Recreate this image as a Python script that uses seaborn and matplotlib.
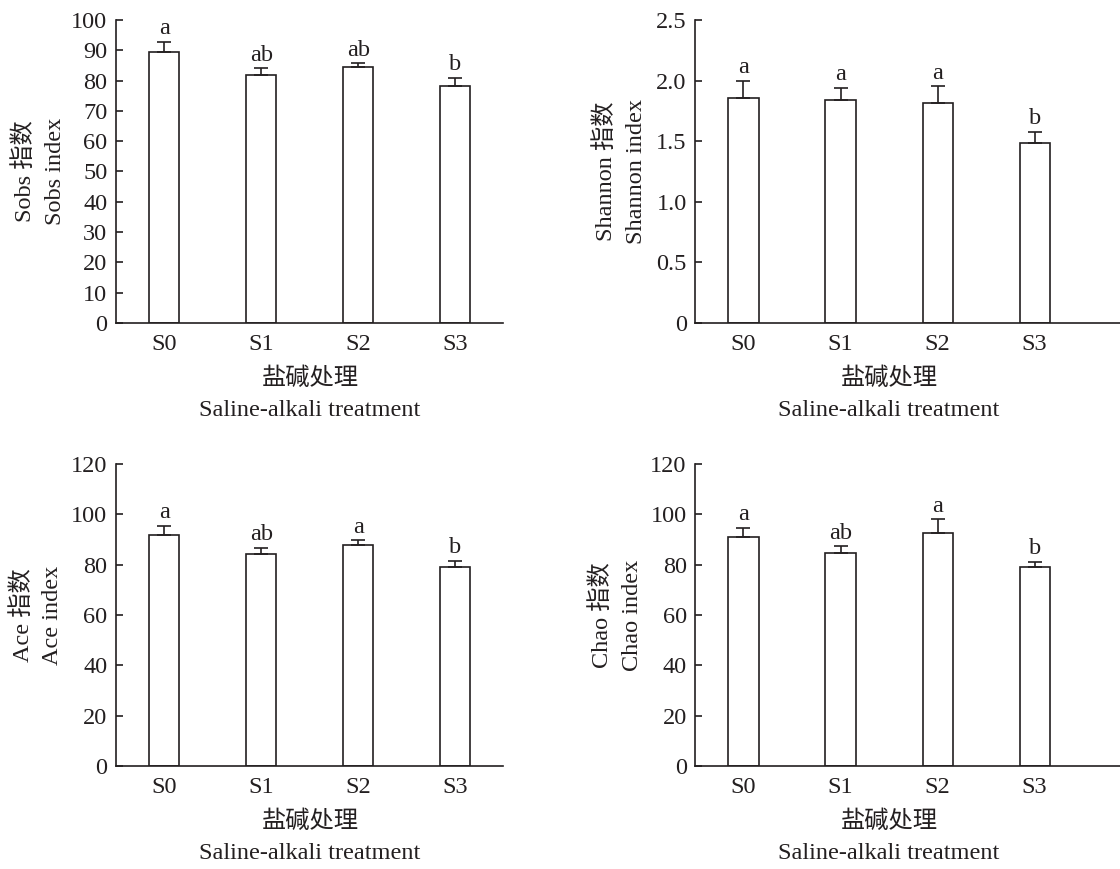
import matplotlib
matplotlib.use("Agg")
import matplotlib.pyplot as plt
import seaborn as sns
import numpy as np

# ---- data ----
categories = ["S0", "S1", "S2", "S3"]
sobs_mean = [89.5, 81.8, 84.5, 78.3]
sobs_err = [3.4, 2.2, 1.2, 2.7]
sobs_sig = ["a", "ab", "ab", "b"]
shannon_mean = [1.855, 1.836, 1.814, 1.481]
shannon_err = [0.145, 0.105, 0.138, 0.094]
shannon_sig = ["a", "a", "a", "b"]
ace_mean = [91.6, 84.1, 87.9, 79.0]
ace_err = [3.7, 2.5, 1.7, 2.4]
ace_sig = ["a", "ab", "a", "b"]
chao_mean = [90.9, 84.5, 92.4, 78.9]
chao_err = [3.7, 2.7, 5.5, 2.3]
chao_sig = ["a", "ab", "a", "b"]

sobs_ticks = list(range(0, 101, 10))
shannon_ticks = [0, 0.5, 1.0, 1.5, 2.0, 2.5]
shannon_ticklabels = ["0", "0.5", "1.0", "1.5", "2.0", "2.5"]
ace_ticks = list(range(0, 121, 20))
chao_ticks = list(range(0, 121, 20))

xlabel = "盐碱处理\nSaline-alkali treatment"

sns.set_style("ticks")
plt.rcParams["font.family"] = ["Liberation Serif", "Noto Sans CJK SC"]
FS = 17.5
plt.rcParams["font.size"] = FS
INK = "#231f20"

fig = plt.figure(figsize=(11.2, 8.69), dpi=100)

panels = [
    dict(rect=[0.1033, 0.6283, 0.3458, 0.3487], mean=sobs_mean, err=sobs_err, sig=sobs_sig,
         ticks=sobs_ticks, ticklabels=[str(t) for t in sobs_ticks], ylim=(0, 100),
         ylabel="Sobs 指数\nSobs index", xlim=(-0.5, 3.49), lpad=4),
    dict(rect=[0.6205, 0.6283, 0.3795, 0.3487], mean=shannon_mean, err=shannon_err, sig=shannon_sig,
         ticks=shannon_ticks, ticklabels=shannon_ticklabels, ylim=(0, 2.5),
         ylabel="Shannon 指数\nShannon index", xlim=(-0.5, 3.88), lpad=6.5),
    dict(rect=[0.1033, 0.1182, 0.3458, 0.3482], mean=ace_mean, err=ace_err, sig=ace_sig,
         ticks=ace_ticks, ticklabels=[str(t) for t in ace_ticks], ylim=(0, 120),
         ylabel="Ace 指数\nAce index", xlim=(-0.5, 3.49), lpad=5.5),
    dict(rect=[0.6205, 0.1182, 0.3795, 0.3482], mean=chao_mean, err=chao_err, sig=chao_sig,
         ticks=chao_ticks, ticklabels=[str(t) for t in chao_ticks], ylim=(0, 120),
         ylabel="Chao 指数\nChao index", xlim=(-0.5, 3.88), lpad=5.5),
]

for p in panels:
    ax = fig.add_axes(p["rect"])
    sns.barplot(x=categories, y=p["mean"], color="white", edgecolor=INK,
                linewidth=1.2, width=0.31, ax=ax, saturation=1)
    xs = np.arange(len(categories))
    ax.errorbar(xs, p["mean"], yerr=[np.zeros(len(xs)), p["err"]], fmt="none",
                ecolor=INK, elinewidth=1.2, capsize=4.7, capthick=1.2)
    for x, m, e, s in zip(xs, p["mean"], p["err"], p["sig"]):
        ax.annotate(s, xy=(x, m + e), xytext=(0, 2), textcoords="offset points",
                    ha="center", va="bottom", fontsize=FS, color=INK)
    ax.set_xlim(*p["xlim"])
    ax.set_ylim(*p["ylim"])
    ax.set_yticks(p["ticks"])
    ax.set_yticklabels(p["ticklabels"])
    ax.tick_params(axis="y", direction="in", length=5, width=1.2, colors=INK,
                   labelsize=FS, pad=6)
    ax.tick_params(axis="x", length=0, labelsize=FS, pad=8, colors=INK)
    for sp in ["top", "right"]:
        ax.spines[sp].set_visible(False)
    for sp in ["left", "bottom"]:
        ax.spines[sp].set_linewidth(1.2)
        ax.spines[sp].set_color(INK)
    ax.set_ylabel(p["ylabel"], fontsize=FS, linespacing=1.55, labelpad=p["lpad"], color=INK)
    ax.set_xlabel(xlabel, fontsize=FS, linespacing=1.6, color=INK)
    # center x label on the category span
    span_center = (1.5 - p["xlim"][0]) / (p["xlim"][1] - p["xlim"][0])
    ax.xaxis.set_label_coords(span_center, -0.147)
    ax.xaxis.label.set_va("top")

fig.savefig("out.png", dpi=100, facecolor="white")
